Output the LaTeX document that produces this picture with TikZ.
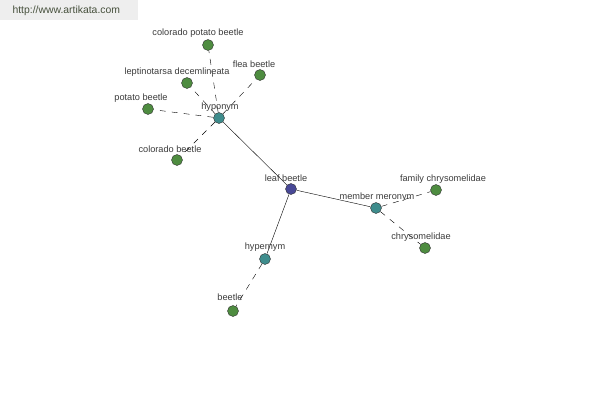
\documentclass[tikz,border=0pt]{standalone}
\usepackage{fontspec}
\setmainfont{Liberation Sans}
\usepackage{xcolor}
\usepackage{tikz}
\usetikzlibrary{positioning}
\definecolor{rootblue}{RGB}{72,72,150}
\definecolor{relteal}{RGB}{62,140,140}
\definecolor{wordgreen}{RGB}{78,140,64}
\definecolor{labelgrey}{RGB}{60,60,60}
\definecolor{markgrey}{RGB}{238,238,238}
\definecolor{marktext}{RGB}{70,80,60}
\tikzset{
  rootnode/.style={circle,draw=black!80,thin,fill=rootblue,
    minimum size=11pt,inner sep=0pt},
  relnode/.style={circle,draw=black!80,thin,fill=relteal,
    minimum size=11pt,inner sep=0pt},
  wordnode/.style={circle,draw=black!80,thin,fill=wordgreen,
    minimum size=11pt,inner sep=0pt},
  mainlink/.style={draw=black,thin},
  sublink/.style={draw=black,thin,dash pattern=on 6pt off 6pt},
  nodelabel/.style={font=\fontsize{9.2}{11}\selectfont,text=labelgrey,inner sep=0pt}
}
\begin{document}
\begin{tikzpicture}[x=1pt,y=-1pt]
  \useasboundingbox[fill=white] (0,0) rectangle (600,400);
  \fill[markgrey] (0,0) rectangle (138,20);
  \node[font=\fontsize{10.4}{12}\selectfont,text=marktext,anchor=west] (mark) at (9,11)
    {http://www.artikata.com};
  % relation and word nodes
  \node[rootnode] (leaf) at (291,189) {};
  \node[relnode] (hypo) at (219,118) {};
  \node[relnode] (memb) at (376,208) {};
  \node[relnode] (hyper) at (265,259) {};
  \node[wordnode] (cpb) at (208,45) {};
  \node[wordnode] (flea) at (260,75) {};
  \node[wordnode] (lept) at (187,83) {};
  \node[wordnode] (potato) at (148,109) {};
  \node[wordnode] (colb) at (177,160) {};
  \node[wordnode] (famch) at (436,190) {};
  \node[wordnode] (chry) at (425,248) {};
  \node[wordnode] (beetle) at (233,311) {};
  % links
  \draw[mainlink] (leaf) -- (hypo);
  \draw[mainlink] (leaf) -- (memb);
  \draw[mainlink] (leaf) -- (hyper);
  \foreach \w in {cpb,flea,lept,potato,colb}
    {\draw[sublink] (hypo) -- (\w);}
  \draw[sublink] (memb) -- (famch);
  \draw[sublink] (memb) -- (chry);
  \draw[sublink] (hyper) -- (beetle);
  % labels
  \node[nodelabel] at (286,178) {leaf beetle};
  \node[nodelabel] at (220,107) {hyponym};
  \node[nodelabel] at (377,197) {member meronym};
  \node[nodelabel] at (265,247) {hypernym};
  \node[nodelabel] at (198,33) {colorado potato beetle};
  \node[nodelabel] at (254,64) {flea beetle};
  \node[nodelabel] at (177,72) {leptinotarsa decemlineata};
  \node[nodelabel] at (141,98) {potato beetle};
  \node[nodelabel] at (170,149) {colorado beetle};
  \node[nodelabel] at (443,179) {family chrysomelidae};
  \node[nodelabel] at (421,237) {chrysomelidae};
  \node[nodelabel] at (230,297) {beetle};
\end{tikzpicture}
\end{document}
